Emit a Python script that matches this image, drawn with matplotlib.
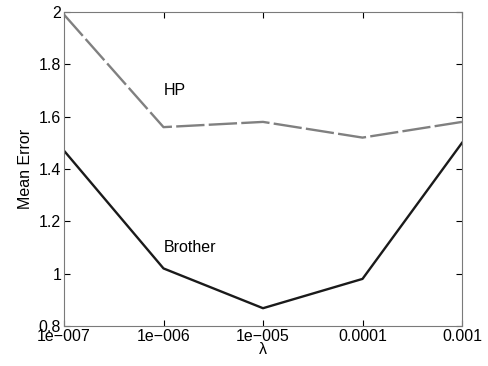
import matplotlib
matplotlib.use("Agg")
import matplotlib.pyplot as plt

plt.rcParams['font.family'] = ['Liberation Sans', 'DejaVu Sans']

# valeurs
lambdas = [1e-7, 1e-6, 1e-5, 1e-4, 1e-3]
tick_labels = ['1e\u2212007', '1e\u2212006', '1e\u2212005', '0.0001', '0.001']
erreur_hp = [1.99, 1.56, 1.58, 1.52, 1.58]
erreur_brother = [1.47, 1.02, 0.868, 0.98, 1.50]

fig = plt.figure(figsize=(4.88, 3.66), dpi=100)
ax = fig.add_axes([64 / 488, 40 / 366, 398 / 488, 314 / 366])

ax.plot(lambdas, erreur_hp, color='#808080', linewidth=1.7,
        dashes=(12, 1.8), solid_joinstyle='miter')
ax.plot(lambdas, erreur_brother, color='#1a1a1a', linewidth=1.7)

ax.text(1e-6, 1.70, 'HP', fontsize=11.5, va='center', ha='left')
ax.text(1e-6, 1.10, 'Brother', fontsize=11.5, va='center', ha='left')

ax.set_xscale('log')
ax.set_xlim(1e-7, 1e-3)
ax.set_ylim(0.8, 2.0)
ax.set_xticks(lambdas)
ax.set_xticklabels(tick_labels)
ax.minorticks_off()
ax.set_yticks([0.8, 1.0, 1.2, 1.4, 1.6, 1.8, 2.0])
ax.set_yticklabels(['0.8', '1', '1.2', '1.4', '1.6', '1.8', '2'])

ax.tick_params(direction='in', top=True, right=True, length=4, width=0.8,
               labelsize=11.5, pad=2)
for s in ax.spines.values():
    s.set_color('#7a7a7a')
    s.set_linewidth(0.8)

ax.set_xlabel('λ', fontsize=11.5, labelpad=-1)
ax.set_ylabel('Mean Error', fontsize=11.5, labelpad=4)

fig.savefig('out.png', dpi=100)
